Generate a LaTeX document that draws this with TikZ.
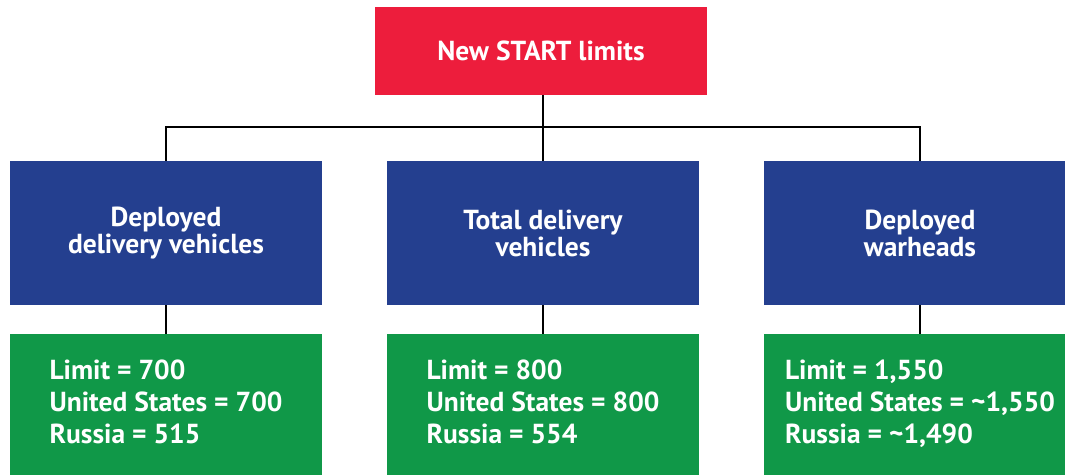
\documentclass[tikz,border=0pt]{standalone}
\usepackage{fontspec}
\setmainfont{PT Sans}
\definecolor{redbox}{RGB}{237,29,60}
\definecolor{bluebox}{RGB}{36,63,143}
\definecolor{greenbox}{RGB}{16,152,72}
\newcommand{\tld}{{\char"7E}}
\begin{document}
\begin{tikzpicture}[x=1pt,y=-1pt,
  box/.style={rectangle,inner sep=0pt,text=white,font=\bfseries\fontsize{27.5}{27}\selectfont,align=center},
  redstyle/.style={box,fill=redbox,minimum width=332pt,minimum height=88pt},
  bluestyle/.style={box,fill=bluebox,minimum width=312pt,minimum height=144pt},
  greenstyle/.style={box,fill=greenbox,minimum width=312pt,minimum height=142pt,font=\bfseries\fontsize{27.5}{32}\selectfont},
  conn/.style={draw=black,line width=2pt}]
\clip (0,0) rectangle (1065,474);
\fill[white] (0,0) rectangle (1065,474);
\node[redstyle] (top) at (541,51) {New START limits};
\node[bluestyle] (b1) at (166,233) {Deployed\\delivery vehicles};
\node[bluestyle] (b2) at (543,233) {Total delivery\\vehicles};
\node[bluestyle] (b3) at (920,233) {Deployed\\warheads};
\node[greenstyle] (g1) at (166,405) {\begin{tabular}{@{}l@{}}Limit = 700\\United States = 700\\Russia = 515\end{tabular}};
\node[greenstyle] (g2) at (543,405) {\begin{tabular}{@{}l@{}}Limit = 800\\United States = 800\\Russia = 554\end{tabular}};
\node[greenstyle] (g3) at (920,405) {\begin{tabular}{@{}l@{}}Limit = 1,550\\United States = \tld1,550\\Russia = \tld1,490\end{tabular}};
\coordinate (bar) at (0,127);
\draw[conn] (top.south -| b2.north) -- (b2.north);
\draw[conn] (b1.north) -- (b1.north |- bar) -- (b3.north |- bar) -- (b3.north);
\draw[conn] (b1.south) -- (g1.north);
\draw[conn] (b2.south) -- (g2.north);
\draw[conn] (b3.south) -- (g3.north);
\end{tikzpicture}
\end{document}
